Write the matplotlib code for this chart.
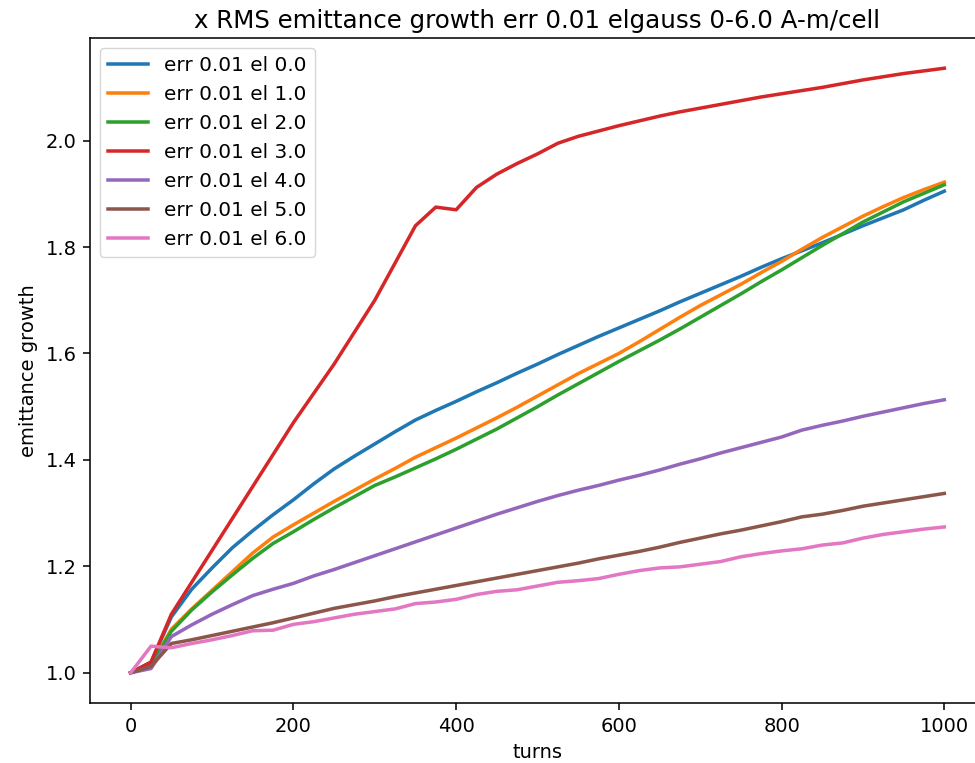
import matplotlib
matplotlib.use("Agg")
import matplotlib.pyplot as plt

turns = [0, 25, 50, 75, 100, 125, 150, 175, 200, 225, 250, 275, 300, 325, 350, 375, 400,
         425, 450, 475, 500, 525, 550, 575, 600, 625, 650, 675, 700, 725, 750, 775, 800,
         825, 850, 875, 900, 925, 950, 975, 1000]

el_0 = [1.0, 1.02, 1.105, 1.157, 1.197, 1.235, 1.267, 1.297, 1.325, 1.355, 1.383, 1.407,
        1.43, 1.453, 1.475, 1.493, 1.51, 1.528, 1.545, 1.563, 1.58, 1.598, 1.615, 1.632,
        1.648, 1.664, 1.68, 1.697, 1.713, 1.729, 1.745, 1.762, 1.778, 1.793, 1.808, 1.824,
        1.84, 1.855, 1.87, 1.888, 1.905]
el_1 = [1.0, 1.015, 1.082, 1.12, 1.155, 1.19, 1.225, 1.255, 1.278, 1.3, 1.322, 1.343,
        1.364, 1.384, 1.405, 1.423, 1.441, 1.46, 1.479, 1.499, 1.52, 1.541, 1.562, 1.581,
        1.6, 1.622, 1.645, 1.668, 1.69, 1.71, 1.73, 1.752, 1.773, 1.796, 1.818, 1.838,
        1.858, 1.876, 1.893, 1.908, 1.922]
el_2 = [1.0, 1.015, 1.078, 1.118, 1.152, 1.184, 1.215, 1.243, 1.265, 1.288, 1.31, 1.331,
        1.352, 1.368, 1.385, 1.402, 1.42, 1.439, 1.458, 1.479, 1.5, 1.522, 1.543, 1.564,
        1.585, 1.605, 1.625, 1.646, 1.668, 1.69, 1.712, 1.735, 1.757, 1.78, 1.803, 1.825,
        1.847, 1.866, 1.885, 1.901, 1.917]
el_3 = [1.0, 1.02, 1.11, 1.17, 1.23, 1.29, 1.35, 1.41, 1.47, 1.525, 1.58, 1.64, 1.70,
        1.77, 1.84, 1.875, 1.87, 1.912, 1.937, 1.957, 1.975, 1.995, 2.008, 2.018, 2.028,
        2.037, 2.046, 2.054, 2.061, 2.068, 2.075, 2.082, 2.088, 2.094, 2.1, 2.107, 2.114,
        2.12, 2.126, 2.131, 2.136]
el_4 = [1.0, 1.008, 1.068, 1.09, 1.11, 1.128, 1.145, 1.157, 1.168, 1.182, 1.194, 1.207,
        1.22, 1.233, 1.246, 1.259, 1.272, 1.285, 1.298, 1.31, 1.322, 1.333, 1.343, 1.352,
        1.362, 1.371, 1.381, 1.392, 1.402, 1.413, 1.423, 1.433, 1.443, 1.456, 1.465, 1.473,
        1.482, 1.49, 1.498, 1.506, 1.513]
el_5 = [1.0, 1.012, 1.055, 1.062, 1.07, 1.078, 1.086, 1.094, 1.103, 1.112, 1.121, 1.128,
        1.135, 1.143, 1.15, 1.157, 1.164, 1.171, 1.178, 1.185, 1.192, 1.199, 1.206, 1.214,
        1.221, 1.228, 1.236, 1.245, 1.253, 1.261, 1.268, 1.276, 1.284, 1.293, 1.298, 1.305,
        1.313, 1.319, 1.325, 1.331, 1.337]
el_6 = [1.0, 1.05, 1.047, 1.055, 1.062, 1.07, 1.079, 1.08, 1.091, 1.096, 1.103, 1.11,
        1.115, 1.12, 1.13, 1.133, 1.138, 1.147, 1.153, 1.156, 1.163, 1.17, 1.173, 1.177,
        1.185, 1.192, 1.197, 1.199, 1.204, 1.209, 1.218, 1.224, 1.229, 1.233, 1.24, 1.244,
        1.253, 1.26, 1.265, 1.27, 1.274]

series = [el_0, el_1, el_2, el_3, el_4, el_5, el_6]
labels = ["err 0.01 el 0.0", "err 0.01 el 1.0", "err 0.01 el 2.0", "err 0.01 el 3.0",
          "err 0.01 el 4.0", "err 0.01 el 5.0", "err 0.01 el 6.0"]

# original looks like a default mpl figure rendered ~1.4x larger
s = 1.4
fig = plt.figure(figsize=(9.75, 7.63), dpi=100)
# axes run past the right edge, as in the cropped original
ax = fig.add_axes([90 / 975, 60 / 763, 895 / 975, 665 / 763])

for vals, lab in zip(series, labels):
    ax.plot(turns, vals, label=lab, linewidth=1.8 * s)

ax.set_xlim(-50, 1050)
ax.set_xticks([0, 200, 400, 600, 800, 1000])
ax.set_yticks([1.0, 1.2, 1.4, 1.6, 1.8, 2.0])
ax.set_xlabel("turns", fontsize=10 * s, labelpad=4 * s)
ax.set_ylabel("emittance growth", fontsize=10 * s, labelpad=4 * s)
ax.tick_params(labelsize=10 * s, length=3.5 * s, width=0.8 * s, pad=3.5 * s)
for sp in ax.spines.values():
    sp.set_linewidth(0.8 * s)
ax.legend(loc="upper left", fontsize=10.3 * s)
ax.set_title("x RMS emittance growth err 0.01 elgauss 0-6.0 A-m/cell",
             fontsize=12.6 * s, pad=5 * s)

fig.savefig("out.png", dpi=100)
